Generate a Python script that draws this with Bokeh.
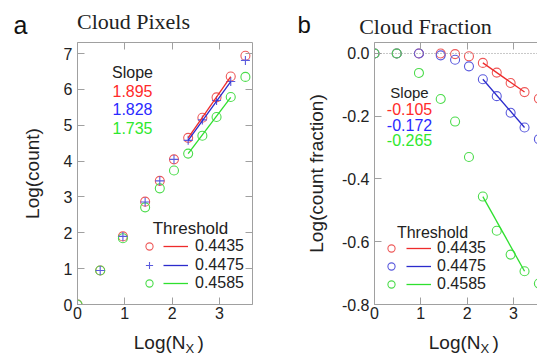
from bokeh.plotting import figure
from bokeh.models import (Label, Legend, LegendItem, LinearAxis, FixedTicker, Span,
                          NumeralTickFormatter, Range1d)
from bokeh.layouts import row, column
from bokeh.embed import file_html
from bokeh.resources import INLINE

SANS = "Liberation Sans"
SERIF = "Liberation Serif"

# ---------------- data ----------------
log_nx = [0.0, 0.48, 0.96, 1.43, 1.74, 2.04, 2.34, 2.64, 2.94, 3.24, 3.55]
thresholds = ["0.4435", "0.4475", "0.4585"]

# panel a: Log(count)
pix_4435 = [0.0, 0.95, 1.90, 2.87, 3.45, 4.05, 4.65, 5.21, 5.78, 6.36, 6.94]
pix_4475 = [0.0, 0.95, 1.90, 2.86, 3.45, 4.05, 4.58, 5.15, 5.69, 6.22, 6.81]
pix_4585 = [0.0, 0.95, 1.85, 2.71, 3.24, 3.74, 4.21, 4.71, 5.23, 5.79, 6.35]
fit_x = [2.34, 3.24]
pix_fit_4435 = [4.65, 6.36]
pix_fit_4475 = [4.58, 6.22]
pix_fit_4585 = [4.21, 5.78]
pix_slopes = ["1.895", "1.828", "1.735"]

# panel b: Log(count fraction)
frac_4435 = [0.0, 0.0, 0.0, 0.0, -0.002, -0.009, -0.030, -0.061, -0.094, -0.123, -0.144]
frac_4475 = [0.0, 0.0, 0.0, -0.006, -0.020, -0.041, -0.082, -0.136, -0.189, -0.236, -0.273]
frac_4585 = [0.0, 0.0, -0.062, -0.145, -0.217, -0.330, -0.456, -0.565, -0.641, -0.694, -0.733]
frac_fit_4435 = [-0.030, -0.123]
frac_fit_4475 = [-0.082, -0.236]
frac_fit_4585 = [-0.456, -0.694]
frac_slopes = ["-0.105", "-0.172", "-0.265"]

xticks = [0, 1, 2, 3]
yticks_a = [0, 1, 2, 3, 4, 5, 6, 7]
yticks_b = [-0.8, -0.6, -0.4, -0.2, 0.0]

# ---------------- style ----------------
AXC = "#a0a0a0"
TXT = "#222222"
RED_M, BLUE_M, GREEN_M = "#ee5a5a", "#5a5add", "#4cdc4c"
RED_L, BLUE_L, GREEN_L = "#ee2b2b", "#2b2bcc", "#2ee02e"
RED_T, BLUE_T, GREEN_T = "#ff2a2a", "#2a2aff", "#2ee82e"

HEAD_H, FOOT_H = 38, 26
TOP_B = 42 - HEAD_H
FRAME_BOTTOM = 304
BOT_B = (354 - FOOT_H) - FRAME_BOTTOM
MAIN_H = 354 - HEAD_H - FOOT_H
WA, WB = 268, 269


def style_axis(ax, ticks, size="16px", standoff=5):
    ax.ticker = FixedTicker(ticks=ticks)
    ax.axis_line_color = AXC
    ax.major_tick_line_color = AXC
    ax.major_tick_in = 7
    ax.major_tick_out = 0
    ax.minor_tick_line_color = None
    ax.major_label_text_font = SANS
    ax.major_label_text_font_size = size
    ax.major_label_text_color = TXT
    ax.major_label_standoff = standoff


def mirror_axis(ax, ticks):
    # tick marks only (drawn as minor ticks so that no label space is reserved)
    ax.ticker = FixedTicker(ticks=[], minor_ticks=ticks)
    ax.axis_line_color = AXC
    ax.major_tick_line_color = None
    ax.minor_tick_line_color = AXC
    ax.minor_tick_in = 7
    ax.minor_tick_out = 0
    ax.major_tick_in = 0
    ax.major_tick_out = 0
    ax.major_label_standoff = 0
    ax.axis_label_standoff = 0


def lab(p, x, y, text, size, color=TXT, font=SANS, align="center"):
    p.add_layout(Label(x=x, y=y, x_units="screen", y_units="screen", text=text,
                       text_font=font, text_font_size=size, text_color=color,
                       text_align=align, text_baseline="middle"))


def blank(w, h):
    f = figure(width=w, height=h, x_range=Range1d(0, 1), y_range=Range1d(0, 1),
               x_axis_type=None, y_axis_type=None, output_backend="svg",
               toolbar_location=None, min_border=0, title=None)
    f.grid.visible = False
    f.outline_line_color = None
    return f


def make_legends(p, mk, ln, x_m, x_l, bottoms, standoff):
    for r_m, r_l, t, b in zip(mk, ln, thresholds, bottoms):
        p.add_layout(Legend(items=[LegendItem(label=" ", renderers=[r_m])],
                            location=(x_m, b), glyph_width=18, glyph_height=22,
                            padding=0, margin=0, label_standoff=0, label_width=0,
                            label_height=22, label_text_font_size="1px", label_text_color=None,
                            background_fill_alpha=0, border_line_color=None))
        p.add_layout(Legend(items=[LegendItem(label=t, renderers=[r_l])],
                            location=(x_l, b), glyph_width=25, glyph_height=22,
                            padding=0, margin=0, label_standoff=standoff, label_height=22,
                            label_text_font=SANS, label_text_font_size="16px",
                            label_text_color=TXT,
                            background_fill_alpha=0, border_line_color=None))


def ylabel(p, text, standoff):
    p.yaxis[0].axis_label = text
    p.yaxis[0].axis_label_text_font = SANS
    p.yaxis[0].axis_label_text_font_size = "19px"
    p.yaxis[0].axis_label_text_font_style = "normal"
    p.yaxis[0].axis_label_text_color = TXT
    p.yaxis[0].axis_label_standoff = standoff


# ---------------- headers (panel letters and titles) ----------------
ha = blank(WA, HEAD_H)
lab(ha, 13, HEAD_H - 24, "a", "25px", color="#111111", align="left")
lab(ha, 133, HEAD_H - 21, "Cloud Pixels", "22px", font=SERIF)

hb = blank(WB, HEAD_H)
lab(hb, 297 - WA, HEAD_H - 24, "b", "24px", color="#111111", align="left")
lab(hb, 425 - WA, HEAD_H - 25.5, "Cloud Fraction", "22px", font=SERIF)

# ---------------- footers (x-axis titles with subscript) ----------------
fa = blank(WA, FOOT_H)
lab(fa, 185, 354 - 341.5, "Log(N", "19px", align="right")
lab(fa, 185, 354 - 347.5, "X", "13px", align="left")
lab(fa, 197, 354 - 341.5, ")", "19px", align="left")

fb = blank(WB, FOOT_H)
lab(fb, 480 - WA, 354 - 341.5, "Log(N", "19px", align="right")
lab(fb, 480 - WA, 354 - 347.5, "X", "13px", align="left")
lab(fb, 492 - WA, 354 - 341.5, ")", "19px", align="left")

# ---------------- panel a ----------------
pa = figure(width=WA, height=MAIN_H, x_range=Range1d(0, 3.70), y_range=Range1d(0, 7.31),
            output_backend="svg", toolbar_location=None, title=None,
            min_border_left=77, min_border_right=16, min_border_top=TOP_B,
            min_border_bottom=BOT_B)
pa.grid.visible = False
pa.outline_line_color = None
style_axis(pa.xaxis[0], xticks, standoff=2)
style_axis(pa.yaxis[0], yticks_a)
ylabel(pa, "Log(count)", 18)
ta = LinearAxis(); pa.add_layout(ta, "above"); mirror_axis(ta, xticks)
ra_ = LinearAxis(); pa.add_layout(ra_, "right"); mirror_axis(ra_, yticks_a)

m1 = pa.scatter(log_nx, pix_4435, marker="circle", size=9, fill_color=None, line_color=RED_M, line_width=1.1)
m3 = pa.scatter(log_nx, pix_4585, marker="circle", size=9, fill_color=None, line_color=GREEN_M, line_width=1.1)
m2 = pa.scatter(log_nx, pix_4475, marker="cross", size=9, line_color=BLUE_M, line_width=1.1)
l1 = pa.line(fit_x, pix_fit_4435, line_color=RED_L, line_width=1.3)
l2 = pa.line(fit_x, pix_fit_4475, line_color=BLUE_L, line_width=1.3)
l3 = pa.line(fit_x, pix_fit_4585, line_color=GREEN_L, line_width=1.3)

FB_ = FRAME_BOTTOM
make_legends(pa, [m1, m2, m3], [l1, l2, l3], 149 - 77 - 9, 163 - 77,
             [FB_ - 257, FB_ - 275.5, FB_ - 294], 7)
lab(pa, 190 - 77, FB_ - 228, "Threshold", "17px")

lab(pa, 132 - 77, FB_ - 72, "Slope", "16px")
for t, c, yy in zip(pix_slopes, [RED_T, BLUE_T, GREEN_T], [90, 108, 127]):
    lab(pa, 132 - 77, FB_ - yy, t, "16px", color=c)

# ---------------- panel b ----------------
pb = figure(width=WB, height=MAIN_H, x_range=Range1d(0, 3.52), y_range=Range1d(-0.8, 0.035),
            output_backend="svg", toolbar_location=None, title=None,
            min_border_left=106, min_border_right=0, min_border_top=TOP_B,
            min_border_bottom=BOT_B)
pb.grid.visible = False
pb.outline_line_color = None
style_axis(pb.xaxis[0], xticks, standoff=2)
style_axis(pb.yaxis[0], yticks_b)
pb.yaxis[0].formatter = NumeralTickFormatter(format="0.0")
ylabel(pb, "Log(count fraction)", 12)
tb = LinearAxis(); pb.add_layout(tb, "above"); mirror_axis(tb, xticks)
pb.add_layout(Span(location=0, dimension="width", line_color="#909090", line_dash="1 2", line_width=1))

n1 = pb.scatter(log_nx, frac_4435, marker="circle", size=9, fill_color=None, line_color=RED_M, line_width=1.1)
n2 = pb.scatter(log_nx, frac_4475, marker="circle", size=9, fill_color=None, line_color=BLUE_M, line_width=1.1)
n3 = pb.scatter(log_nx, frac_4585, marker="circle", size=9, fill_color=None, line_color=GREEN_M, line_width=1.1)
k1 = pb.line(fit_x, frac_fit_4435, line_color=RED_L, line_width=1.3)
k2 = pb.line(fit_x, frac_fit_4475, line_color=BLUE_L, line_width=1.3)
k3 = pb.line(fit_x, frac_fit_4585, line_color=GREEN_L, line_width=1.3)

make_legends(pb, [n1, n2, n3], [k1, k2, k3], 391 - 374 - 9, 406 - 374,
             [FB_ - 259, FB_ - 277, FB_ - 295], 6)
lab(pb, 432 - 374, FB_ - 232, "Threshold", "16px")

lab(pb, 409 - 374, FB_ - 92, "Slope", "15px")
for t, c, yy in zip(frac_slopes, [RED_T, BLUE_T, GREEN_T], [108, 124, 139]):
    lab(pb, 409 - 374, FB_ - yy, t, "16px", color=c)

layout = column(row(ha, hb), row(pa, pb), row(fa, fb), spacing=0)
open("out.html", "w").write(file_html(layout, INLINE))
